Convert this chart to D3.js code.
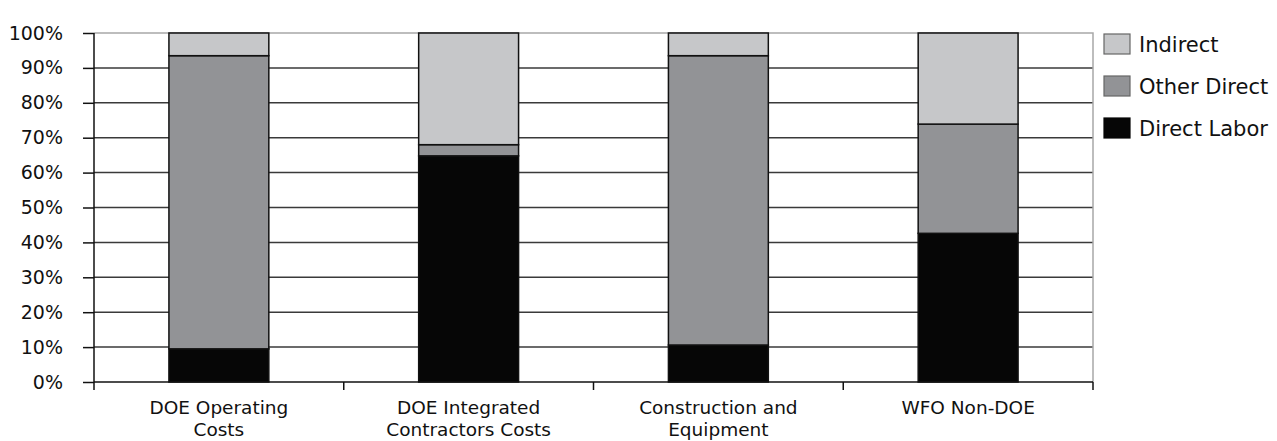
<!DOCTYPE html>
<html lang="en">

<head>
    <meta charset="utf-8">
    <title>cost breakdown</title>
    <script src="https://cdn.jsdelivr.net/npm/d3@7"></script>
</head>
<style>
    body {
        margin: 0;
        background: white;
    }

    text {
        font-family: "DejaVu Sans", sans-serif;
        fill: #111;
    }
</style>

<body>
    <script>
        // data
        var categories = [
            ["DOE Operating", "Costs"],
            ["DOE Integrated", "Contractors Costs"],
            ["Construction and", "Equipment"],
            ["WFO Non-DOE"]
        ];
        var directLabor = [9.5, 64.8, 10.6, 42.6];
        var otherDirect = [84.0, 3.2, 82.9, 31.3];
        var indirect = [6.5, 32.0, 6.5, 26.1];
        var seriesNames = ["Direct Labor", "Other Direct", "Indirect"];
        var seriesColors = ["#060606", "#929396", "#c6c7c9"];
        var yTicks = [0, 10, 20, 30, 40, 50, 60, 70, 80, 90, 100];

        var width = 1277, height = 441;
        var mLeft = 94, mRight = 1093, mTop = 33, mBottom = 382;

        var rows = categories.map((c, i) => ({
            key: i,
            "Direct Labor": directLabor[i],
            "Other Direct": otherDirect[i],
            "Indirect": indirect[i]
        }));
        var stacked = d3.stack().keys(seriesNames)(rows);

        var x = d3.scaleBand()
            .domain(d3.range(categories.length))
            .range([mLeft, mRight])
            .paddingInner(0.6)
            .paddingOuter(0.3);
        var xb = d3.scaleLinear().domain([0, categories.length]).range([mLeft, mRight]);
        var y = d3.scaleLinear().domain([0, 100]).range([mBottom, mTop]);

        var svg = d3.select("body")
            .append("svg")
            .attr("width", width)
            .attr("height", height);

        // gridlines
        svg.append("g")
            .selectAll("line")
            .data(yTicks.filter(d => d > 0 && d < 100))
            .join("line")
            .attr("x1", mLeft).attr("x2", mRight)
            .attr("y1", d => y(d)).attr("y2", d => y(d))
            .attr("stroke", "#3a3a3a")
            .attr("stroke-width", 1.5);

        // plot border top / right
        svg.append("path")
            .attr("d", `M${mLeft},${y(100)}H${mRight}V${y(0)}`)
            .attr("fill", "none")
            .attr("stroke", "#a8a8a8")
            .attr("stroke-width", 1.5);

        // bars
        svg.append("g")
            .selectAll("g")
            .data(stacked)
            .join("g")
            .attr("fill", (d, i) => seriesColors[i])
            .selectAll("rect")
            .data(d => d)
            .join("rect")
            .attr("x", (d, i) => x(i))
            .attr("width", x.bandwidth())
            .attr("y", d => y(d[1]))
            .attr("height", d => y(d[0]) - y(d[1]))
            .attr("stroke", "#111")
            .attr("stroke-width", 1.5);

        // y axis
        var yAxis = svg.append("g")
            .attr("transform", `translate(${mLeft},0)`)
            .call(d3.axisLeft(y).tickValues(yTicks).tickFormat(d => d + "%").tickSize(11).tickPadding(20));
        yAxis.select(".domain").attr("d", `M0,${y(100)}V${y(0) + 8}`).attr("stroke", "#111").attr("stroke-width", 1.5);
        yAxis.selectAll(".tick line").attr("stroke", "#111").attr("stroke-width", 1.5);
        yAxis.selectAll("text").attr("font-size", 19).attr("fill", "#111").attr("font-family", "DejaVu Sans");

        // x axis
        var xAxis = svg.append("g")
            .attr("transform", `translate(0,${mBottom})`);
        xAxis.append("line")
            .attr("x1", mLeft).attr("x2", mRight)
            .attr("stroke", "#111").attr("stroke-width", 1.5);
        xAxis.selectAll(".xtick")
            .data(d3.range(1, categories.length + 1))
            .join("line")
            .attr("class", "xtick")
            .attr("x1", d => xb(d)).attr("x2", d => xb(d))
            .attr("y1", 0).attr("y2", 8)
            .attr("stroke", "#111").attr("stroke-width", 1.5);
        xAxis.selectAll(".xlabel")
            .data(categories)
            .join("text")
            .attr("class", "xlabel")
            .attr("text-anchor", "middle")
            .attr("font-size", 18.5)
            .attr("x", (d, i) => x(i) + x.bandwidth() / 2)
            .attr("y", 32)
            .selectAll("tspan")
            .data(d => d)
            .join("tspan")
            .attr("x", function () { return this.parentNode.getAttribute("x"); })
            .attr("dy", (d, i) => i ? 21.5 : 0)
            .text(d => d);

        // legend
        var legend = svg.append("g")
            .selectAll("g")
            .data(seriesNames.slice().reverse())
            .join("g")
            .attr("transform", (d, i) => `translate(1104,${34 + i * 42})`);
        legend.append("rect")
            .attr("width", 26).attr("height", 20)
            .attr("fill", d => seriesColors[seriesNames.indexOf(d)])
            .attr("stroke", d => d === "Direct Labor" ? "#060606" : "#666")
            .attr("stroke-width", 1.2);
        legend.append("text")
            .attr("x", 35)
            .attr("y", 11)
            .attr("dy", "0.35em")
            .attr("font-size", 21)
            .text(d => d);
    </script>
</body>

</html>
